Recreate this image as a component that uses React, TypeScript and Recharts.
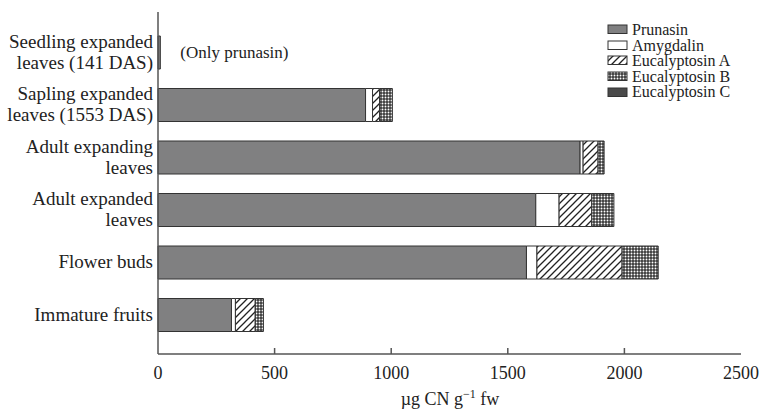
import React from 'react';
import { BarChart, Bar, XAxis, YAxis, LabelList } from 'recharts';

const categories = [
  'Seedling expanded leaves (141 DAS)',
  'Sapling expanded leaves (1553 DAS)',
  'Adult expanding leaves',
  'Adult expanded leaves',
  'Flower buds',
  'Immature fruits',
];
const categoryLines: string[][] = [
  ['Seedling expanded', 'leaves (141 DAS)'],
  ['Sapling expanded', 'leaves (1553 DAS)'],
  ['Adult expanding', 'leaves'],
  ['Adult expanded', 'leaves'],
  ['Flower buds'],
  ['Immature fruits'],
];
const prunasin = [10, 890, 1810, 1620, 1580, 315];
const amygdalin = [0, 30, 13, 100, 45, 17];
const eucalyptosinA = [0, 30, 64, 140, 365, 85];
const eucalyptosinB = [0, 55, 26, 95, 155, 35];
const eucalyptosinC = [0, 0, 0, 0, 0, 0];
const xTicks = [0, 500, 1000, 1500, 2000, 2500];
const seriesNames = ['Prunasin', 'Amygdalin', 'Eucalyptosin A', 'Eucalyptosin B', 'Eucalyptosin C'];
const note = '(Only prunasin)';

const data = categories.map((name, i) => ({
  name,
  idx: i,
  prunasin: prunasin[i],
  amygdalin: amygdalin[i],
  eucA: eucalyptosinA[i],
  eucB: eucalyptosinB[i],
  eucC: eucalyptosinC[i],
}));

const FONT = '"Liberation Serif", "Times New Roman", serif';
const AX = '#555';
const STROKE = '#333';
const fills = ['#808081', '#ffffff', 'url(#hatchA)', 'url(#dotsB)', '#4a4a4a'];
const keys = ['prunasin', 'amygdalin', 'eucA', 'eucB', 'eucC'];

const Patterns = ({ prefix }: { prefix: string }) => (
  <defs>
    <pattern id={`${prefix}hatchA`} patternUnits="userSpaceOnUse" width="7" height="7">
      <rect width="7" height="7" fill="#fff" />
      <path d="M-1,1 l2,-2 M0,7 l7,-7 M6,8 l2,-2" stroke="#222" strokeWidth="1.3" />
    </pattern>
    <pattern id={`${prefix}dotsB`} patternUnits="userSpaceOnUse" width="3" height="3">
      <rect width="3" height="3" fill="#3a3a3a" />
      <circle cx="1.5" cy="1.5" r="0.95" fill="#fff" />
    </pattern>
  </defs>
);

const XTick = (props: any) => {
  const { x, y, payload } = props;
  return (
    <g>
      {payload.value !== 0 && payload.value !== 2500 && (
        <line x1={x} x2={x} y1={y} y2={y - 6} stroke={AX} strokeWidth={1.5} />
      )}
      <text x={x} y={y + 25} textAnchor="middle" fontSize={18} fontFamily={FONT} fill="#222">
        {payload.value}
      </text>
    </g>
  );
};

const YTick = (props: any) => {
  const { y, payload } = props;
  const i = categories.indexOf(payload.value);
  const lines = categoryLines[i] || [String(payload.value)];
  const lh = 21;
  const start = y - ((lines.length - 1) * lh) / 2 + 6;
  return (
    <text textAnchor="end" fontSize={19} fontFamily={FONT} fill="#222">
      {lines.map((l, k) => (
        <tspan key={k} x={153} y={start + k * lh}>
          {l}
        </tspan>
      ))}
    </text>
  );
};

const NoteLabel = (props: any) => {
  const { x, y, width, height, index } = props;
  if (index !== 0) return null;
  return (
    <text x={x + width + 20} y={y + height / 2 + 5} fontSize={17} fontFamily={FONT} fill="#222">
      {note}
    </text>
  );
};

const XTitle = (props: any) => (
  <text x={450} y={405} textAnchor="middle" fontSize={18} fontFamily={FONT} fill="#222">
    µg CN g
    <tspan dy={-7} fontSize={12}>
      −1
    </tspan>
    <tspan dy={7}> fw</tspan>
  </text>
);

const Legend = () => (
  <div
    style={{
      position: 'absolute',
      left: 607,
      top: 22,
      fontFamily: FONT,
      fontSize: 16,
      lineHeight: '15.6px',
      color: '#222',
    }}
  >
    {seriesNames.map((n, i) => (
      <div key={n} style={{ display: 'flex', alignItems: 'center', height: 15.6 }}>
        <svg width={22} height={11} style={{ marginRight: 3 }}>
          <Patterns prefix={`lg${i}`} />
          <rect
            x={1}
            y={1}
            width={19}
            height={8.5}
            fill={fills[i].startsWith('url') ? `url(#lg${i}${fills[i].slice(5, -1)})` : fills[i]}
            stroke={STROKE}
            strokeWidth={1}
          />
        </svg>
        <span>{n}</span>
      </div>
    ))}
  </div>
);

export default function App() {
  return (
    <div style={{ position: 'absolute', left: 0, top: 0, width: 759, height: 411, background: '#fff' }}>
      <BarChart
        width={759}
        height={411}
        data={data}
        layout="vertical"
        margin={{ top: 12, right: 18, left: 0, bottom: 0 }}
        barCategoryGap={0}
      >
        <Patterns prefix="" />
        <XAxis
          type="number"
          domain={[0, 2500]}
          ticks={xTicks}
          interval={0}
          height={57}
          tickLine={false}
          tickSize={0}
          tickMargin={0}
          axisLine={{ stroke: AX, strokeWidth: 1.5 }}
          tick={<XTick />}
          label={<XTitle />}
        />
        <XAxis
          xAxisId="top"
          orientation="top"
          type="number"
          domain={[0, 2500]}
          height={0}
          tick={false}
          tickLine={false}
          axisLine={{ stroke: AX, strokeWidth: 1.5 }}
        />
        <YAxis
          type="category"
          dataKey="name"
          width={158}
          tickLine={false}
          tickSize={0}
          tickMargin={0}
          interval={0}
          padding={{ top: 14, bottom: 13 }}
          axisLine={{ stroke: AX, strokeWidth: 1.5 }}
          tick={<YTick />}
        />
        <YAxis
          yAxisId="right"
          orientation="right"
          type="category"
          dataKey="name"
          width={0}
          tick={false}
          tickLine={false}
          axisLine={{ stroke: AX, strokeWidth: 1.5 }}
        />
        {keys.map((k, i) => (
          <Bar
            key={k}
            dataKey={k}
            name={seriesNames[i]}
            stackId="a"
            fill={fills[i]}
            stroke={STROKE}
            strokeWidth={1}
            barSize={33}
            isAnimationActive={false}
          >
            {i === 0 && <LabelList dataKey={k} content={<NoteLabel />} />}
          </Bar>
        ))}
      </BarChart>
      <Legend />
    </div>
  );
}
